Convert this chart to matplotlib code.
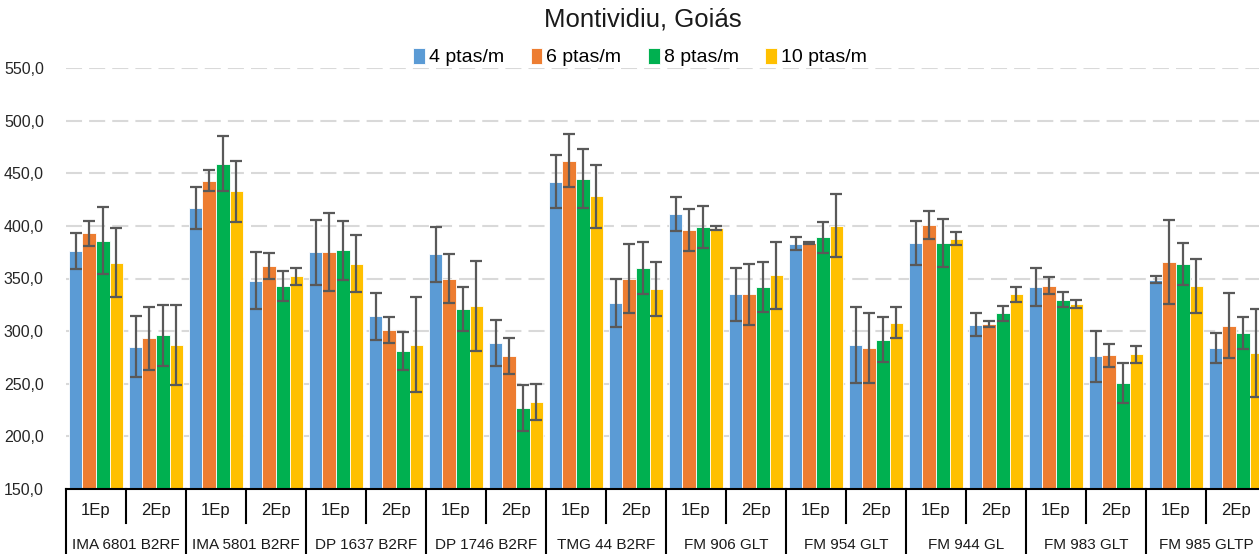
import matplotlib
matplotlib.use("Agg")
import matplotlib.pyplot as plt
import numpy as np
from matplotlib.transforms import blended_transform_factory

plt.rcParams['font.family'] = ['Liberation Sans', 'DejaVu Sans']

cultivars = ["IMA 6801 B2RF", "IMA 5801 B2RF", "DP 1637 B2RF", "DP 1746 B2RF",
             "TMG 44 B2RF", "FM 906 GLT", "FM 954 GLT", "FM 944 GL",
             "FM 983 GLT", "FM 985 GLTP"]
epochs = ["1Ep", "2Ep"]
series = ["4 ptas/m", "6 ptas/m", "8 ptas/m", "10 ptas/m"]
colors = ["#5B9BD5", "#ED7D31", "#00B050", "#FFC000"]

v4 = [376, 285, 417, 348, 375, 314, 373, 289, 442, 327, 411, 335, 383, 287, 384, 306, 342, 276, 349, 284]
e4 = [17, 29, 20, 27, 31, 22, 26, 22, 25, 23, 16, 25, 6, 36, 21, 11, 18, 24, 3, 14]
v6 = [393, 293, 443, 362, 375, 301, 350, 276, 462, 350, 396, 335, 384, 284, 401, 307, 343, 277, 366, 305]
e6 = [12, 30, 10, 12, 37, 12, 23, 17, 25, 33, 20, 29, 1, 33, 13, 3, 8, 11, 40, 31]
v8 = [386, 296, 459, 343, 377, 281, 321, 227, 445, 360, 399, 342, 389, 292, 384, 317, 330, 251, 364, 298]
e8 = [32, 29, 26, 14, 28, 18, 21, 22, 28, 25, 20, 24, 15, 21, 23, 7, 7, 19, 20, 15]
v10 = [365, 287, 433, 352, 364, 287, 324, 233, 428, 340, 398, 353, 400, 308, 388, 335, 326, 278, 343, 279]
e10 = [33, 38, 29, 8, 27, 45, 43, 17, 30, 26, 2, 32, 30, 15, 6, 7, 4, 8, 26, 42]

values = [v4, v6, v8, v10]
errors = [e4, e6, e8, e10]
yticks = [150, 200, 250, 300, 350, 400, 450, 500, 550]
title = "Montividiu, Goiás"

W, H = 1259, 554
fig = plt.figure(figsize=(W / 100, H / 100), dpi=100)
ax_left, ax_right, ax_top, ax_bot = 66, 1266, 68, 489
ax = fig.add_axes([ax_left / W, 1 - ax_bot / H, (ax_right - ax_left) / W, (ax_bot - ax_top) / H])

n = len(cultivars) * len(epochs)
x = np.arange(n)
bw = 0.227
offsets = [-1.5 * bw, -0.5 * bw, 0.5 * bw, 1.5 * bw]

for i in range(4):
    ax.bar(x + offsets[i], values[i], bw, color=colors[i], edgecolor='white',
           linewidth=0.6, label=series[i], zorder=2)
    ax.errorbar(x + offsets[i], values[i], yerr=errors[i], fmt='none',
                ecolor='#595959', elinewidth=1.6, capsize=4.3, capthick=1.6, zorder=3)

ax.set_xlim(-0.5, n - 0.5)
ax.set_ylim(150, 550)
ax.set_yticks(yticks)
ax.set_yticklabels([f"{t:.1f}".replace('.', ',') for t in yticks], fontsize=11.5, color='#262626')
ax.tick_params(axis='y', length=0, pad=16)
ax.tick_params(axis='x', length=0)
ax.set_xticks([])
ax.yaxis.grid(True, color='#d9d9d9', linewidth=1.5, linestyle=(0, (7.7, 3.4)), zorder=0)
for s in ['top', 'right', 'left']:
    ax.spines[s].set_visible(False)
ax.spines['bottom'].set_color('black')
ax.spines['bottom'].set_linewidth(1.5)

trans = blended_transform_factory(ax.transData, ax.transAxes)
hpx = ax_bot - ax_top
y_ep = -(511 - ax_bot) / hpx
y_cv = -(545 - ax_bot) / hpx
y_inner = -(523 - ax_bot) / hpx
y_outer = -(570 - ax_bot) / hpx

for k in range(n):
    ax.text(x[k], y_ep, epochs[k % 2], transform=trans, ha='center', va='center',
            fontsize=12, color='#1a1a1a')
for c in range(len(cultivars)):
    ax.text(2 * c + 0.5, y_cv, cultivars[c], transform=trans, ha='center', va='center',
            fontsize=11, color='#1a1a1a')
    ax.plot([2 * c + 0.5, 2 * c + 0.5], [0, y_inner], transform=trans, color='black',
            lw=1.5, clip_on=False)
for c in range(len(cultivars) + 1):
    ax.plot([2 * c - 0.5, 2 * c - 0.5], [0, y_outer], transform=trans, color='black',
            lw=1.5, clip_on=False)

fig.text(643 / W, 1 - 19 / H, title, ha='center', va='center', fontsize=18.5, color='#1a1a1a')
leg = fig.legend(loc='center', bbox_to_anchor=(640 / W, 1 - 57 / H), ncol=4, frameon=False,
                 fontsize=14, handlelength=0.6, handleheight=0.9, handletextpad=0.2,
                 columnspacing=1.38)

fig.savefig("out.png", dpi=100)
